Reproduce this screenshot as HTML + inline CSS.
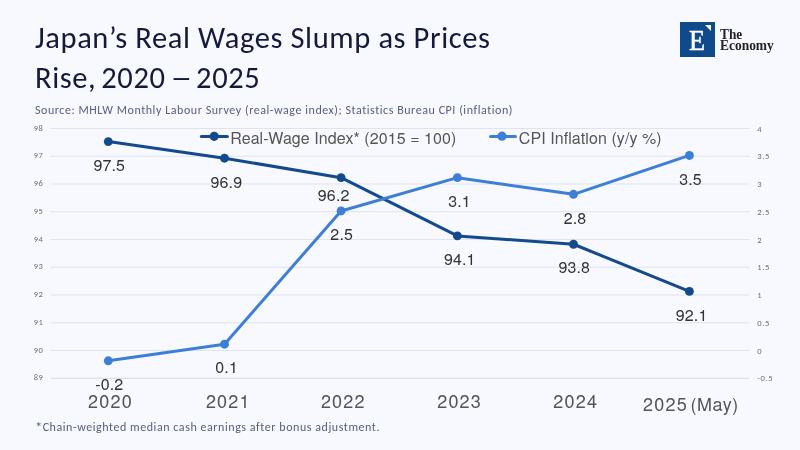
<!DOCTYPE html>
<html><head><meta charset="utf-8">
<style>
html,body{margin:0;padding:0;}
body{width:800px;height:450px;overflow:hidden;background:#f8f8ff;position:relative;}
#wrap{position:absolute;left:0;top:0;width:800px;height:450px;will-change:transform;font-family:Carlito,"Liberation Sans",sans-serif;}
.t{position:absolute;white-space:nowrap;}
#title{left:35px;top:18.3px;font-size:30.5px;letter-spacing:0.6px;line-height:39.8px;color:#141a3a;font-family:Carlito,"Liberation Sans",sans-serif;}
#src{left:35px;top:103.2px;font-size:12px;letter-spacing:0.55px;color:#56607e;font-family:Carlito,"Liberation Sans",sans-serif;}
#foot{left:35px;top:420px;font-size:12px;line-height:15px;letter-spacing:0.555px;color:#56607e;font-family:Carlito,"Liberation Sans",sans-serif;}
svg{position:absolute;left:0;top:0;}
.dash{display:inline-block;transform:scaleX(1.43);margin-left:0.5px;margin-right:-0.7px;}
.y1{margin-left:-2.5px;}

.nocarlito #title{font-family:"Liberation Sans",sans-serif;font-size:27.4px;letter-spacing:0;}
.nocarlito .dash{transform:none;margin:0;}
.nocarlito .y1{margin:0;}
.nocarlito #src{font-family:"Liberation Sans",sans-serif;letter-spacing:0;}
.nocarlito #foot{font-family:"Liberation Sans",sans-serif;letter-spacing:0.08px;}
.nocarlito .tick{font-size:8.3px;letter-spacing:0;}
</style></head>
<body><div id="wrap">
<div class="t" id="title">Japan’s Real Wages Slump as Prices<br>Rise, <span class="y1">2020</span> <span class="dash">–</span> 2025</div>
<div class="t" id="src">Source: MHLW Monthly Labour Survey (real-wage index); Statistics Bureau CPI (inflation)</div>
<svg width="800" height="450" viewBox="0 0 800 450">
  <!-- logo -->
  <rect x="680" y="22" width="35" height="35" fill="#0f4a8a"/>
  <polygon points="705,25 711,25 711,31" fill="#ffffff"/>
  <text x="688.9" y="50.2" font-family="Liberation Serif, serif" font-size="28.6" fill="#ffffff" stroke="#ffffff" stroke-width="0.5" textLength="16.1" lengthAdjust="spacingAndGlyphs">E</text>
  <text x="720" y="38.7" font-family="Liberation Serif, serif" font-size="14" font-weight="bold" fill="#231f20" textLength="22.2" lengthAdjust="spacingAndGlyphs">The</text>
  <text x="720" y="49.6" font-family="Liberation Serif, serif" font-size="13.6" font-weight="bold" fill="#231f20" textLength="53.8" lengthAdjust="spacingAndGlyphs">Economy</text>

  <!-- grid -->
  <g stroke="#dfe3eb" stroke-width="1">
    <line x1="51" x2="749" y1="128.5" y2="128.5"/>
    <line x1="51" x2="749" y1="156.25" y2="156.25"/>
    <line x1="51" x2="749" y1="184" y2="184"/>
    <line x1="51" x2="749" y1="211.75" y2="211.75"/>
    <line x1="51" x2="749" y1="239.5" y2="239.5"/>
    <line x1="51" x2="749" y1="267.25" y2="267.25"/>
    <line x1="51" x2="749" y1="295" y2="295"/>
    <line x1="51" x2="749" y1="322.75" y2="322.75"/>
    <line x1="51" x2="749" y1="350.5" y2="350.5"/>
  </g>
  <line x1="51" x2="749" y1="378.25" y2="378.25" stroke="#d4d6dc" stroke-width="1"/>

  <!-- left ticks -->
  <g class="tick" font-family="Carlito, Liberation Sans, sans-serif" font-size="8.5" letter-spacing="0.6" fill="#6e6e6e" text-anchor="end">
    <text x="43.5" y="130.5">98</text>
    <text x="43.5" y="158.25">97</text>
    <text x="43.5" y="186.0">96</text>
    <text x="43.5" y="213.75">95</text>
    <text x="43.5" y="241.5">94</text>
    <text x="43.5" y="269.25">93</text>
    <text x="43.5" y="297.0">92</text>
    <text x="43.5" y="324.75">91</text>
    <text x="43.5" y="352.5">90</text>
    <text x="43.5" y="380.25">89</text>
  </g>
  <!-- right ticks -->
  <g class="tick" font-family="Carlito, Liberation Sans, sans-serif" font-size="8.5" letter-spacing="0.6" fill="#6e6e6e" text-anchor="start">
    <text x="757.3" y="131.5">4</text>
    <text x="757.3" y="159.25">3.5</text>
    <text x="757.3" y="187.0">3</text>
    <text x="757.3" y="214.75">2.5</text>
    <text x="757.3" y="242.5">2</text>
    <text x="757.3" y="270.25">1.5</text>
    <text x="757.3" y="298.0">1</text>
    <text x="757.3" y="325.75">0.5</text>
    <text x="757.3" y="353.5">0</text>
    <text x="757.3" y="381.25">-0.5</text>
  </g>

  <!-- legend -->
  <line x1="201.4" x2="227.4" y1="136.5" y2="136.5" stroke="#124a8c" stroke-width="3" stroke-linecap="round"/>
  <circle cx="214.2" cy="136.3" r="4.6" fill="#124a8c"/>
  <text x="230.2" y="143.8" font-family="TeX Gyre Heros, Nimbus Sans, Liberation Sans, sans-serif" font-size="16" letter-spacing="0.08" fill="#555555">Real-Wage Index* (2015 = 100)</text>
  <line x1="490.5" x2="515.5" y1="136.5" y2="136.5" stroke="#3d7fd6" stroke-width="3" stroke-linecap="round"/>
  <circle cx="502" cy="136.2" r="4.6" fill="#3d7fd6"/>
  <text x="518.75" y="143.8" font-family="TeX Gyre Heros, Nimbus Sans, Liberation Sans, sans-serif" font-size="16" letter-spacing="0.08" fill="#555555">CPI Inflation (y/y %)</text>

  <!-- wage line -->
  <polyline fill="none" stroke="#124a8c" stroke-width="3" stroke-linejoin="round" points="108.3,141.6 224.5,158.2 341.1,177.65 457.4,235.9 573.5,244.25 689.4,291.4"/>
  <g fill="#124a8c">
    <circle cx="108.3" cy="141.6" r="4.45"/>
    <circle cx="224.5" cy="158.2" r="4.45"/>
    <circle cx="341.1" cy="177.65" r="4.45"/>
    <circle cx="457.4" cy="235.9" r="4.45"/>
    <circle cx="573.5" cy="244.25" r="4.45"/>
    <circle cx="689.4" cy="291.4" r="4.45"/>
  </g>
  <!-- CPI line -->
  <polyline fill="none" stroke="#3d7fd6" stroke-width="3" stroke-linejoin="round" points="108.3,360.8 224.5,344.2 341.1,210.95 457.4,177.65 573.5,194.3 689.4,155.45"/>
  <g fill="#3d7fd6">
    <circle cx="108.3" cy="360.8" r="4.45"/>
    <circle cx="224.5" cy="344.2" r="4.45"/>
    <circle cx="341.1" cy="210.95" r="4.45"/>
    <circle cx="457.4" cy="177.65" r="4.45"/>
    <circle cx="573.5" cy="194.3" r="4.45"/>
    <circle cx="689.4" cy="155.45" r="4.45"/>
  </g>

  <!-- data labels -->
  <g font-family="TeX Gyre Heros, Nimbus Sans, Liberation Sans, sans-serif" font-size="16" letter-spacing="0.15" fill="#333333" text-anchor="middle">
    <text x="109.25" y="171">97.5</text>
    <text x="226.4" y="187.6">96.9</text>
    <text x="333.7" y="200.8">96.2</text>
    <text x="459.75" y="265">94.1</text>
    <text x="574.3" y="273.2">93.8</text>
    <text x="691.6" y="320.8">92.1</text>
    <text x="109.25" y="390">-0.2</text>
    <text x="226.6" y="373.2">0.1</text>
    <text x="341.7" y="240">2.5</text>
    <text x="459.5" y="207">3.1</text>
    <text x="575.0" y="223.8">2.8</text>
    <text x="690.5" y="185">3.5</text>
  </g>

  <!-- x labels -->
  <g font-family="TeX Gyre Heros, Nimbus Sans, Liberation Sans, sans-serif" font-size="18" fill="#555555" letter-spacing="1.2">
    <text x="88.1" y="407.8">2020</text>
    <text x="205.9" y="407.8">2021</text>
    <text x="320.9" y="407.8">2022</text>
    <text x="437.2" y="407.8">2023</text>
    <text x="553.3" y="407.8">2024</text>
    <text x="643.1" y="410.8">2025</text>
    <text x="690.6" y="410.8" letter-spacing="0.5">(May)</text>
  </g>
</svg>
<div class="t" id="foot"><span style="font-size:15px;vertical-align:-1px;margin-right:-0.4px">*</span>Chain-weighted median cash earnings after bonus adjustment.</div>
</div><script>
(function(){
  try{
    var c=document.createElement('canvas').getContext('2d');
    var t='Japan Real Wages Slump mmmwwwiii 0123456789';
    c.font='40px monospace'; var a=c.measureText(t).width;
    c.font='40px Carlito, monospace'; var b=c.measureText(t).width;
    if(Math.abs(a-b)<0.5){document.documentElement.className+=' nocarlito';}
  }catch(e){}
})();
</script>
</body></html>
